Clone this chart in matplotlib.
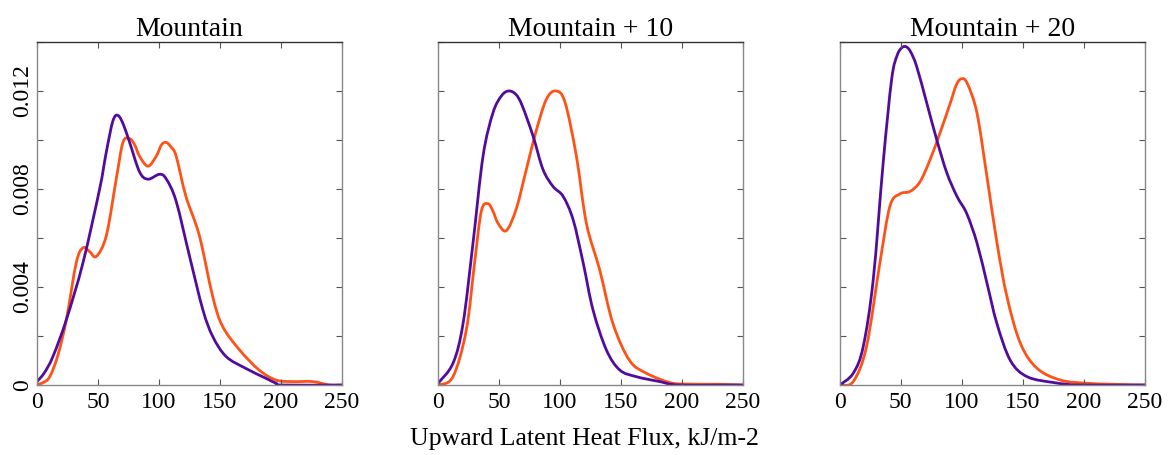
import numpy as np
import matplotlib
matplotlib.use("Agg")
import matplotlib.pyplot as plt
from matplotlib.ticker import MultipleLocator
from matplotlib.path import Path
from matplotlib.patches import PathPatch

plt.rcParams['font.family'] = ['Liberation Serif', 'DejaVu Serif']

titles = ["Mountain", "Mountain + 10", "Mountain + 20"]
xlabel = "Upward Latent Heat Flux, kJ/m-2"

# purple curves (x, density)
p1_x = [0, 6, 13, 24, 37.7, 51.3, 56, 59.5, 62, 64.5, 67.5, 71, 75.9, 84, 90.9, 100.4, 106, 114, 125, 135.9, 144, 155, 171, 187.7, 196, 201, 250]
p1_y = [0.00014, 0.0005, 0.00116, 0.00266, 0.0050, 0.0080, 0.0093, 0.0102, 0.01075, 0.0110, 0.01095, 0.0106, 0.0099, 0.0087, 0.0084, 0.0086, 0.0084, 0.0075, 0.00525, 0.00307, 0.00198, 0.00116, 0.00068, 0.00027, 0.00007, 0.0, 0.0]
p2_x = [0, 12.3, 20.5, 28.7, 36.9, 45, 52, 58, 64, 69, 77.9, 86, 94.3, 102.5, 110.7, 118.9, 127, 138, 149, 162.6, 181.7, 198, 250]
p2_y = [0.00007, 0.00089, 0.0025, 0.0058, 0.00934, 0.0111, 0.0118, 0.0120, 0.01185, 0.0114, 0.01016, 0.0088, 0.0081, 0.0077, 0.00675, 0.0050, 0.00307, 0.00143, 0.00061, 0.00034, 0.00014, 0.0, 0.0]
p3_x = [0, 11, 19.2, 27.4, 35.6, 42.5, 47, 51, 54.5, 58, 63, 71.3, 79.5, 87.7, 96, 104, 112.4, 120.6, 128.8, 139.8, 153.5, 175.4, 197, 250]
p3_y = [0.0, 0.00048, 0.00157, 0.0043, 0.0091, 0.01248, 0.01345, 0.01377, 0.0138, 0.0136, 0.0130, 0.0115, 0.0100, 0.00866, 0.0077, 0.0070, 0.0058, 0.00416, 0.0025, 0.0010, 0.00034, 0.0001, 0.0, 0.0]

# orange curves
o1_x = [0, 5, 10.4, 17, 24, 32.2, 37.7, 43, 48.6, 56.8, 64.9, 70.4, 75.9, 80, 84, 90.9, 97.7, 102, 105.9, 110, 114, 122, 133, 144, 152, 166, 182, 196, 209.5, 226, 239.6, 250]
o1_y = [0.00002, 0.0001, 0.00034, 0.0012, 0.00266, 0.0050, 0.0056, 0.00545, 0.00525, 0.0061, 0.0084, 0.0099, 0.01005, 0.0098, 0.00934, 0.00893, 0.00934, 0.0098, 0.0099, 0.0097, 0.00934, 0.0077, 0.0061, 0.0036, 0.0024, 0.00143, 0.00061, 0.0002, 0.00014, 0.00014, 0.0, 0.0]
o2_x = [0, 12.3, 23.2, 30, 35.5, 41, 45, 49.2, 56, 64.2, 72.4, 80.6, 88.8, 96.5, 104, 113.4, 121.6, 132.5, 143.4, 157, 170.8, 190, 203.5, 230.9, 250]
o2_y = [0.0, 0.00034, 0.00225, 0.0050, 0.0071, 0.0074, 0.0071, 0.0066, 0.0063, 0.0072, 0.0088, 0.0104, 0.01166, 0.0120, 0.01155, 0.00934, 0.0066, 0.0047, 0.0025, 0.0010, 0.00048, 0.0001, 0.00004, 0.00003, 0.0]
o3_x = [0, 11, 21.9, 32.9, 41.1, 49.3, 57.6, 65.8, 74, 82.2, 90.5, 95.5, 99.8, 104.5, 112.4, 120.6, 128.8, 137, 148, 161.7, 181, 203, 224.8, 250]
o3_y = [0.0, 0.00014, 0.00157, 0.0050, 0.0073, 0.0078, 0.0079, 0.0083, 0.0092, 0.0103, 0.0115, 0.01225, 0.0125, 0.0123, 0.0111, 0.0085, 0.0058, 0.0036, 0.0017, 0.00068, 0.0002, 0.00007, 0.00003, 0.0]

purple = [(p1_x, p1_y), (p2_x, p2_y), (p3_x, p3_y)]
orange = [(o1_x, o1_y), (o2_x, o2_y), (o3_x, o3_y)]

c_purple = "#520c9c"
c_orange = "#ff5216"


def smooth_line(ax, xs, ys, color):
    # draws a smooth curve through the points (Catmull-Rom as Bezier segments)
    pts = np.column_stack([xs, ys]).astype(float)
    n = len(pts)
    verts = [pts[0]]
    codes = [Path.MOVETO]
    for i in range(n - 1):
        p0 = pts[max(i - 1, 0)]
        p1 = pts[i]
        p2 = pts[i + 1]
        p3 = pts[min(i + 2, n - 1)]
        c1 = p1 + (p2 - p0) / 6.0
        c2 = p2 - (p3 - p1) / 6.0
        verts += [c1, c2, p2]
        codes += [Path.CURVE4] * 3
    patch = PathPatch(Path(verts, codes), facecolor='none', edgecolor=color,
                      lw=2, capstyle='round', joinstyle='round')
    ax.add_patch(patch)


fig = plt.figure(figsize=(11.68, 4.55), dpi=100)
lefts = [0.0317, 0.375, 0.719]
for i in range(3):
    ax = fig.add_axes([lefts[i], 0.1538, 0.2612, 0.754])
    smooth_line(ax, orange[i][0], orange[i][1], c_orange)
    smooth_line(ax, purple[i][0], purple[i][1], c_purple)
    ax.set_xlim(0, 250)
    ax.set_ylim(0, 0.014)
    ax.set_xticks([0, 50, 100, 150, 200, 250])
    ax.yaxis.set_major_locator(MultipleLocator(0.004))
    ax.yaxis.set_minor_locator(MultipleLocator(0.002))
    ax.tick_params(direction='in', top=True, right=True, which='both',
                   length=4, width=0.8, color='#555555', labelsize=17)
    ax.tick_params(axis='x', pad=5)
    ax.set_title(titles[i], fontsize=20, pad=3)
    for s in ax.spines.values():
        s.set_color('#888888')
        s.set_linewidth(1.0)
    ax.spines['top'].set_color('#333333')
    if i == 0:
        ax.set_yticks([0, 0.004, 0.008, 0.012])
        ax.set_yticklabels(["0", "0.004", "0.008", "0.012"], rotation=90, va='center')
        ax.tick_params(axis='y', pad=3)
    else:
        ax.tick_params(axis='y', labelleft=False)

fig.text(0.5, 0.01, xlabel, ha='center', va='bottom', fontsize=18.5)

fig.savefig("out.png", dpi=100)
